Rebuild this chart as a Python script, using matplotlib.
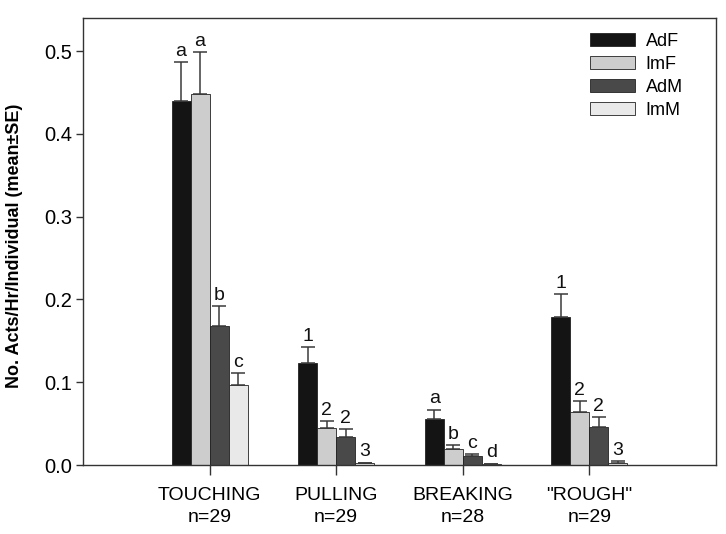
import matplotlib
matplotlib.use('agg')
import matplotlib.pyplot as plt
import numpy as np

plt.rcParams['font.family'] = ['Liberation Sans', 'DejaVu Sans']

# categories and n per category
categories = ['TOUCHING', 'PULLING', 'BREAKING', '"ROUGH"']
n_values = [29, 29, 28, 29]
groups = ['AdF', 'ImF', 'AdM', 'ImM']

# means and SE (upper bar only)
means = {
    'AdF': [0.440, 0.123, 0.056, 0.179],
    'ImF': [0.448, 0.045, 0.019, 0.064],
    'AdM': [0.168, 0.034, 0.0105, 0.0455],
    'ImM': [0.097, 0.002, 0.001, 0.003],
}
se = {
    'AdF': [0.047, 0.020, 0.011, 0.028],
    'ImF': [0.051, 0.008, 0.005, 0.013],
    'AdM': [0.024, 0.0095, 0.003, 0.012],
    'ImM': [0.014, 0.001, 0.0008, 0.002],
}
letters = {
    'AdF': ['a', '1', 'a', '1'],
    'ImF': ['a', '2', 'b', '2'],
    'AdM': ['b', '2', 'c', '2'],
    'ImM': ['c', '3', 'd', '3'],
}
colors = {'AdF': '#141414', 'ImF': '#cdcdcd', 'AdM': '#494949', 'ImM': '#e9e9e9'}

fig = plt.figure(figsize=(7.26, 5.34), dpi=100)
ax = fig.add_axes([0.1143, 0.1292, 0.8719, 0.8371])

x = np.arange(len(categories))
width = 0.15
offsets = [-1.5, -0.5, 0.5, 1.5]

for g, off in zip(groups, offsets):
    xs = x + off * width
    ax.bar(xs, means[g], width, color=colors[g], edgecolor='#222222', linewidth=0.6,
           label=g, zorder=2)
    ax.errorbar(xs, means[g], yerr=[np.zeros(len(x)), se[g]], fmt='none',
                ecolor='#3a3a3a', elinewidth=1.1, capsize=5, capthick=1.1, zorder=3)
    for xi, m, s, lab in zip(xs, means[g], se[g], letters[g]):
        ax.annotate(lab, (xi, m + s), xytext=(0, 1.5), textcoords='offset points',
                    ha='center', va='bottom', fontsize=14, color='#111111')

ax.set_xlim(-1, 4)
ax.set_ylim(0, 0.54)
ax.set_yticks([0.0, 0.1, 0.2, 0.3, 0.4, 0.5])
ax.set_yticklabels(['0.0', '0.1', '0.2', '0.3', '0.4', '0.5'])
ax.set_xticks(x)
ax.set_xticklabels([f'{c}\nn={n}' for c, n in zip(categories, n_values)],
                   fontsize=14, linespacing=1.35)
ax.tick_params(axis='y', labelsize=14.5, length=5, width=1, color='#333333', pad=3)
ax.tick_params(axis='x', length=7, width=1, color='#333333', pad=9)
for sp in ax.spines.values():
    sp.set_color('#333333')
    sp.set_linewidth(1)

ax.set_ylabel('No. Acts/Hr/Individual (mean±SE)', fontsize=13, fontweight='bold')
ax.yaxis.set_label_coords(-0.094, 0.49)

ax.legend(loc='upper left', bbox_to_anchor=(0.789, 0.983), borderaxespad=0,
          frameon=False, fontsize=13, handlelength=2.5, handleheight=0.7,
          labelspacing=0.33, handletextpad=0.6)

plt.savefig('out.png', dpi=100)
